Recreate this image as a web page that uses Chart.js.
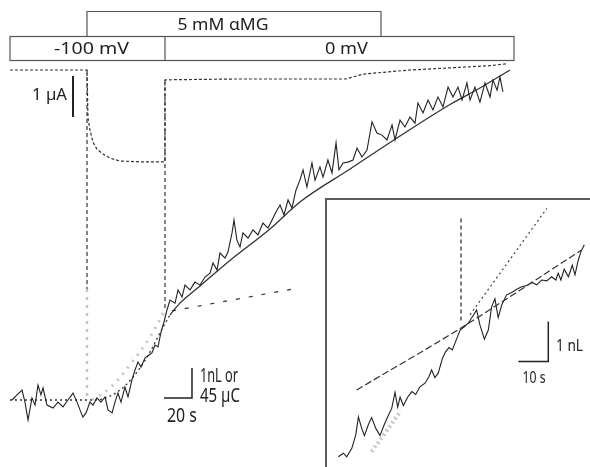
<!DOCTYPE html>
<html>
<head>
<meta charset="utf-8">
<script src="https://cdn.jsdelivr.net/npm/chart.js@4"></script>
<style>
  body { margin: 0; background: #fff; }
  #wrap { position: relative; width: 590px; height: 467px; overflow: hidden; }
  #main { position: absolute; left: 0; top: 0; }
  #inset-box {
    position: absolute; left: 325px; top: 198px; width: 263px; height: 267px;
    border-left: 2px solid #5a5a5a; border-top: 2px solid #5a5a5a; background: #fff;
  }
  #inset { display: block; }
</style>
</head>
<body>
<div id="wrap">
  <canvas id="main" width="590" height="467"></canvas>
  <div id="inset-box"><canvas id="inset" width="263" height="267"></canvas></div>
</div>
<script>
"use strict";

// volume record, time in s, volume change in nL
const volTime = [1.4, 5.0, 8.6, 10.7, 12.9, 15.7, 17.9, 20.0, 22.1, 23.6,
  26.4, 30.7, 34.3, 37.9, 41.4, 45.0, 47.9, 50.0, 52.1, 54.3,
  57.1, 59.3, 62.1, 65.0, 67.9, 70.0, 72.9, 75.0, 77.1, 79.3,
  82.1, 84.3, 87.1, 89.3, 91.4, 93.6, 96.4, 99.3, 101.4, 103.6,
  105.7, 107.9, 110.0, 112.1, 114.3, 117.9, 120.0, 122.9, 125.0, 128.6,
  132.1, 135.7, 139.3, 142.9, 145.0, 147.9, 150.0, 153.6, 155.7, 158.6,
  160.0, 162.1, 164.3, 166.4, 170.0, 173.6, 177.1, 180.7, 184.3, 187.9,
  190.0, 192.9, 195.7, 198.6, 201.4, 204.3, 207.1, 209.3, 212.1, 215.7,
  217.9, 221.4, 223.6, 227.1, 230.0, 232.9, 235.0, 237.9, 241.4, 245.0,
  247.9, 251.4, 255.0, 258.6, 262.1, 265.7, 269.3, 272.9, 275.0, 278.6,
  282.1, 285.7, 289.3, 291.4, 295.0, 298.6, 302.1, 305.7, 309.3, 312.9,
  316.4, 320.0, 322.9, 326.4, 328.6, 332.1, 335.7, 339.3, 342.9, 345.0,
  347.9, 350.0, 352.1];
const volValue = [0.00, 0.17, 0.33, -0.07, -0.67, 0.07, -0.17, 0.50, 0.17, 0.40,
  -0.17, -0.27, -0.07, -0.23, 0.00, 0.23, -0.07, -0.33, -0.57, -0.43,
  -0.07, -0.17, 0.07, -0.07, 0.10, -0.33, -0.43, -0.07, 0.23, -0.07,
  0.43, 0.10, 0.67, 1.00, 1.27, 1.10, 1.40, 1.50, 1.57, 1.83,
  1.77, 2.27, 2.60, 3.00, 3.33, 3.23, 3.67, 3.43, 3.83, 3.67,
  3.93, 3.83, 4.10, 4.23, 4.57, 4.33, 4.90, 4.73, 4.93, 5.57,
  6.00, 5.33, 5.10, 5.57, 5.40, 5.67, 5.50, 5.90, 5.73, 6.07,
  6.27, 6.50, 6.17, 6.67, 6.40, 7.00, 7.33, 7.67, 7.10, 7.90,
  7.33, 7.77, 7.43, 8.00, 7.57, 8.57, 7.67, 7.90, 7.93, 8.00,
  8.40, 8.10, 8.33, 9.27, 8.90, 8.83, 8.67, 9.17, 8.67, 9.33,
  9.10, 9.43, 9.23, 9.90, 9.57, 10.00, 9.67, 10.10, 9.77, 10.43,
  10.10, 10.43, 10.00, 10.57, 10.00, 10.43, 9.93, 10.57, 10.10, 10.67,
  10.33, 10.77, 10.27];

// fitted volume curve (dotted while clamped at -100 mV)
const fitTime = [0, 60.7, 71.4, 82.1, 92.9, 100, 107.1, 114.3, 121.4, 135.7,
  157.1, 185.7, 207.1, 242.9, 278.6, 314.3, 335.7, 357.1];
const fitValue = [0, 0, 0.13, 0.47, 1.07, 1.6, 2.23, 2.83, 3.23, 3.8,
  4.65, 5.7, 6.6, 7.7, 8.8, 9.85, 10.4, 11.0];

// initial rate after returning to 0 mV
const slopeTime = [115.7, 205.7];
const slopeValue = [2.97, 3.73];

// swelling expected if the -100 mV rate had continued
const extraTime = [58.6, 71.4, 85.7, 100, 110.7];
const extraValue = [0, 0.4, 1.17, 2.1, 3.0];

// clamp current in µA, relative to the holding current
const curTime = [0, 55, 55.7, 57.1, 59.3, 62.1, 66.4, 71.4, 78.6, 92.9,
  110.7, 110.7, 160, 240, 252.1, 285.7, 340.7, 355];
const curValue = [0, 0, -1.17, -1.46, -1.76, -1.93, -2.05, -2.15, -2.22, -2.24,
  -2.24, -0.24, -0.22, -0.22, -0.10, 0, 0.10, 0.15];

// protocol
const sugarLabel = "5 mM αMG";
const sugarSpan = [55, 265];
const voltLabels = ["-100 mV", "0 mV"];
const voltEdges = [0, 110.7, 360];
const stepTimes = [55, 110.7];

// inset: time from the voltage step (s), volume (nL)
const insetTime = [-40.9, -39.2, -38.1, -36.4, -35.1, -34.2, -33.1, -32.2, -30.9, -29.8,
  -28.4, -27.0, -25.6, -24.2, -23.1, -22.0, -21.1, -20.3, -19.2, -17.8,
  -16.4, -15.1, -13.7, -12.0, -10.7, -9.8, -8.7, -7.6, -6.2, -5.1,
  -4.0, -2.9, -1.8, -0.3, 1.1, 2.4, 3.8, 5.2, 6.3, 7.8,
  9.1, 10.2, 11.3, 12.4, 13.6, 15.2, 16.9, 18.6, 20.2, 21.9,
  23.6, 25.2, 26.9, 28.6, 30.2, 31.6, 32.4, 33.3, 34.4, 35.8,
  37.1, 38.0, 39.1, 40.0, 41.1];
const insetValue = [-3.22, -3.13, -3.22, -3.01, -2.68, -2.22, -2.51, -2.69, -2.42, -2.24,
  -2.51, -2.69, -2.42, -2.18, -2.01, -1.61, -1.98, -1.73, -1.94, -1.73,
  -1.59, -1.66, -1.47, -1.38, -1.22, -1.05, -1.24, -1.13, -0.76, -0.59,
  -0.49, -0.55, -0.34, -0.05, 0.03, 0.12, 0.28, 0.45, 0.08, -0.28,
  -0.05, 0.53, 0.73, 0.26, 0.58, 0.83, 0.89, 0.97, 1.03, 1.06,
  1.14, 1.08, 1.20, 1.18, 1.28, 1.20, 1.37, 1.20, 1.47, 1.28,
  1.57, 1.33, 1.70, 1.91, 2.08];
const insetFitTime = [-34.8, 0, 40.2];
const insetFitValue = [-1.55, 0, 1.95];
const insetSlopeTime = [-29.8, -20, 3, 28.6];
const insetSlopeValue = [-3.09, -2.07, 0.33, 2.99];


(function() {
  window.addEventListener("load", init);

  const INK = "#222";
  const GREY = "rgba(150, 150, 150, 0.55)";
  const TEXT_FONT = '"Noto Sans", sans-serif';

  function init() {
    drawMain();
    drawInset();
  }

  function drawMain() {
    let sets = [
      line(pts(extraTime, extraValue), {borderColor: GREY, borderWidth: 3, borderDash: [2, 6], tension: 0.4}),
      line(pts([stepTimes[0], stepTimes[0]], [11, 3.7]), {borderDash: [4, 3], borderColor: "#333"}),
      line(pts([stepTimes[0], stepTimes[0]], [3.7, 0]), {borderDash: [3, 5], borderColor: GREY, borderWidth: 2.5}),
      line(pts([stepTimes[1], stepTimes[1]], [10.67, 3.0]), {borderDash: [4, 3], borderColor: "#333"}),
      line(pts(volTime, volValue), {borderWidth: 1.1}),
      line(pts(fitTime, fitValue), {
        cubicInterpolationMode: "monotone", borderColor: "#333", borderWidth: 1.3,
        segment: {borderDash: ctx => ctx.p0.parsed.x < 114 ? [2, 3] : undefined}
      }),
      line(pts(slopeTime, slopeValue), {borderDash: [4, 9], borderColor: "#333"}),
      line(pts(curTime, curValue), {yAxisID: "yI", borderDash: [3, 2], borderColor: "#333"}),
      // 20 s / 1 nL bar
      line(pts([110, 130, 130], [0.067, 0.067, 1.067]), {borderWidth: 1.5}),
      // 1 µA bar
      line(pts([45, 45], [-0.146, -1.146]), {yAxisID: "yI", borderWidth: 2})
    ];

    new Chart(id("main"), {
      type: "line",
      data: {datasets: sets},
      options: baseOptions({
        x: {type: "linear", display: false, min: -7.143, max: 414.3},
        y: {display: false, min: -2.233, max: 13.333},
        yI: {display: false, min: -9.683, max: 1.707}
      }),
      plugins: [protocolBars, mainLabels]
    });
  }

  function drawInset() {
    let sets = [
      line(pts(insetSlopeTime, insetSlopeValue), {
        borderDash: [2, 3], borderColor: "#444",
        segment: {
          borderColor: ctx => ctx.p0DataIndex === 0 ? GREY : (ctx.p0DataIndex === 1 ? "rgba(0,0,0,0)" : undefined),
          borderWidth: ctx => ctx.p0DataIndex === 0 ? 4 : undefined
        }
      }),
      line(pts(insetFitTime, insetFitValue), {borderDash: [7, 3], borderColor: "#333", tension: 0.3}),
      line(pts([0, 0], [2.74, 0.16]), {borderDash: [4, 3], borderColor: "#333", borderWidth: 1.3}),
      line(pts(insetTime, insetValue), {borderWidth: 1.1}),
      // 10 s / 1 nL bar
      line(pts([19.1, 29.1, 29.1], [-0.84, -0.84, 0.16]), {borderWidth: 1.5})
    ];

    new Chart(id("inset"), {
      type: "line",
      data: {datasets: sets},
      options: baseOptions({
        x: {type: "linear", display: false, min: -44.67, max: 43},
        y: {display: false, min: -3.475, max: 3.2}
      }),
      plugins: [insetLabels]
    });
  }

  function baseOptions(scales) {
    return {
      responsive: false,
      animation: false,
      devicePixelRatio: 1,
      layout: {padding: 0},
      plugins: {legend: {display: false}, tooltip: {enabled: false}},
      scales: scales
    };
  }

  // solution and holding potential bars above the record
  const protocolBars = {
    id: "protocolBars",
    afterDraw(chart) {
      const ctx = chart.ctx;
      const x = chart.scales.x;
      const top = 11.5, mid = 36.5, bottom = 60.5;
      ctx.save();
      ctx.strokeStyle = "#555";
      ctx.lineWidth = 1.2;

      let s0 = x.getPixelForValue(sugarSpan[0]);
      let s1 = x.getPixelForValue(sugarSpan[1]);
      ctx.beginPath();
      ctx.moveTo(s0, mid);
      ctx.lineTo(s0, top);
      ctx.lineTo(s1, top);
      ctx.lineTo(s1, mid);
      ctx.stroke();

      let v0 = x.getPixelForValue(voltEdges[0]);
      let vN = x.getPixelForValue(voltEdges[voltEdges.length - 1]);
      ctx.strokeRect(v0, mid, vN - v0, bottom - mid);
      for (let i = 1; i < voltEdges.length - 1; i++) {
        let p = x.getPixelForValue(voltEdges[i]);
        ctx.beginPath();
        ctx.moveTo(p, mid);
        ctx.lineTo(p, bottom);
        ctx.stroke();
      }

      ctx.fillStyle = INK;
      ctx.font = "17px " + TEXT_FONT;
      ctx.textBaseline = "middle";
      squeezed(ctx, sugarLabel, (s0 + s1) / 2 - 11, (top + mid) / 2 + 1, 91, "center");
      const shift = [4, 7];
      const widths = [75, 43];
      voltLabels.forEach((label, i) => {
        let a = x.getPixelForValue(voltEdges[i]);
        let b = x.getPixelForValue(voltEdges[i + 1]);
        squeezed(ctx, label, (a + b) / 2 + shift[i], (mid + bottom) / 2 + 1, widths[i], "center");
      });
      ctx.restore();
    }
  };

  const mainLabels = {
    id: "mainLabels",
    afterDraw(chart) {
      const ctx = chart.ctx;
      ctx.save();
      ctx.fillStyle = INK;
      ctx.font = "17px " + TEXT_FONT;
      ctx.textBaseline = "middle";
      squeezed(ctx, "1 µA", 67, 95, 35, "right");

      ctx.font = "19px " + TEXT_FONT;
      ctx.textBaseline = "alphabetic";
      squeezed(ctx, "1nL or", 200, 382, 38, "left");
      squeezed(ctx, "45 µC", 200, 402, 40, "left");
      squeezed(ctx, "20 s", 167, 422, 30, "left");
      ctx.restore();
    }
  };

  const insetLabels = {
    id: "insetLabels",
    afterDraw(chart) {
      const ctx = chart.ctx;
      ctx.save();
      ctx.fillStyle = INK;
      ctx.font = "17px " + TEXT_FONT;
      ctx.textBaseline = "middle";
      squeezed(ctx, "1 nL", 229, 146, 27, "left");
      squeezed(ctx, "10 s", 207, 178, 23, "center");
      ctx.restore();
    }
  };

  // draws text stretched or narrowed sideways to a given width
  function squeezed(ctx, text, x, y, width, align) {
    let w = ctx.measureText(text).width;
    let sx = width / w;
    let left = align === "center" ? x - width / 2 : (align === "right" ? x - width : x);
    ctx.save();
    ctx.textAlign = "left";
    ctx.translate(left, y);
    ctx.scale(sx, 1);
    ctx.fillText(text, 0, 0);
    ctx.restore();
  }

  function pts(xs, ys) {
    return xs.map((v, i) => ({x: v, y: ys[i]}));
  }

  function line(data, opts) {
    return Object.assign({
      data: data,
      borderColor: INK,
      borderWidth: 1.2,
      pointRadius: 0,
      fill: false,
      tension: 0,
      yAxisID: "y"
    }, opts);
  }

  /**
   * Returns the element that has the ID attribute with the specified value.
   * @param {string} name - element ID.
   * @returns {object} - DOM object associated with id.
   */
  function id(name) {
    return document.getElementById(name);
  }
})();
</script>
</body>
</html>
